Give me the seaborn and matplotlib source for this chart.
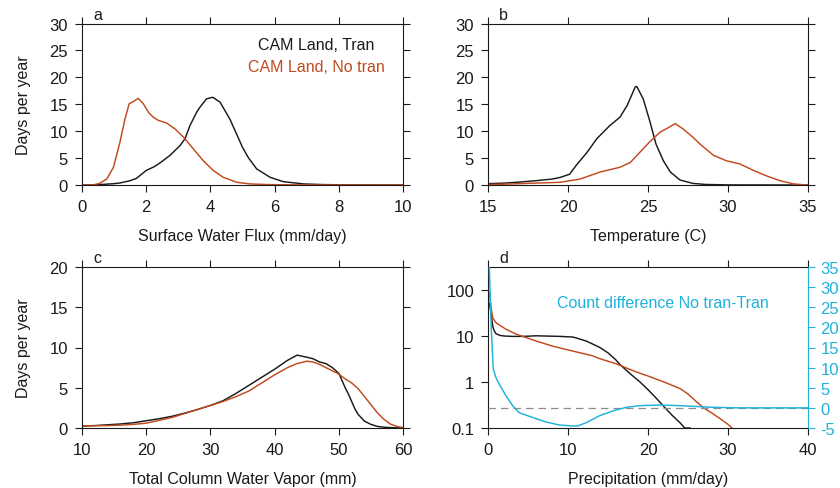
import numpy as np
import matplotlib
matplotlib.use("Agg")
import matplotlib.pyplot as plt
import seaborn as sns
from matplotlib.ticker import NullLocator, FixedLocator

# ── Colours ───────────────────────────────────────────────────────────────────
BLACK = "#1a1a1a"
ORANGE = "#c04a1f"
CYAN = "#1fb2da"

# ── Panel a: surface water flux (mm/day) ──────────────────────────────────────
a_x_tran = [0, 0.5, 1.0, 1.18, 1.5, 1.7, 2.0, 2.25, 2.43, 2.74, 3.05, 3.21, 3.36,
            3.57, 3.68, 3.88, 4.07, 4.3, 4.61, 4.82, 5.0, 5.18, 5.44, 5.86, 6.27,
            6.9, 7.5, 8.0, 9.0, 10.0]
a_tran = [0, 0.05, 0.25, 0.37, 0.8, 1.25, 2.7, 3.4, 4.1, 5.5, 7.3, 8.6, 11.0,
          13.5, 14.5, 16.0, 16.3, 15.4, 12.2, 9.4, 7.0, 5.1, 3.0, 1.43, 0.62,
          0.2, 0.08, 0.04, 0.01, 0]
a_x_notran = [0, 0.35, 0.55, 0.77, 0.98, 1.18, 1.34, 1.47, 1.6, 1.75, 1.91, 2.07,
              2.22, 2.38, 2.64, 2.9, 3.16, 3.47, 3.78, 4.09, 4.4, 4.82, 5.23,
              5.8, 6.5, 7.5, 10.0]
a_notran = [0, 0.02, 0.3, 1.1, 3.3, 7.9, 12.3, 15.1, 15.5, 16.1, 15.1, 13.5,
            12.6, 12.0, 11.5, 10.4, 8.9, 6.7, 4.5, 2.7, 1.43, 0.5, 0.2,
            0.08, 0.03, 0.01, 0]

# ── Panel b: temperature (C) ──────────────────────────────────────────────────
b_x_tran = [15, 16, 17, 18, 19, 19.5, 20.1, 20.5, 21.2, 21.8, 22.6, 23.25, 23.7,
            24.2, 24.3, 24.7, 25.1, 25.5, 25.96, 26.4, 27.0, 27.8, 28.6, 30, 35]
b_tran = [0.25, 0.35, 0.55, 0.8, 1.1, 1.4, 2.0, 3.6, 6.1, 8.6, 11.0, 12.6, 14.8,
          18.2, 18.3, 16.0, 12.0, 7.6, 4.5, 2.4, 0.93, 0.3, 0.1, 0.02, 0]
b_x_notran = [15, 16, 17, 18, 19, 19.5, 20.75, 22.0, 23.25, 23.9, 24.5, 25.1,
              25.75, 26.3, 26.7, 27.2, 27.8, 28.25, 29.1, 29.9, 30.75, 31.6,
              32.4, 33.25, 34.1, 34.9]
b_notran = [0.1, 0.15, 0.25, 0.35, 0.45, 0.5, 1.1, 2.4, 3.3, 4.2, 6.1, 8.0,
            9.8, 10.7, 11.4, 10.4, 8.9, 7.6, 5.5, 4.5, 3.9, 2.7,
            1.7, 0.8, 0.2, 0]

# ── Panel c: total column water vapor (mm) ────────────────────────────────────
c_x = [10, 12, 14, 16, 18, 20, 22, 24, 26, 28, 30, 32, 34, 36, 38, 40, 42, 43.5,
       45, 46, 47, 48, 49, 50, 51, 51.5, 52, 52.5, 53, 54, 55, 56, 57, 58, 59, 60]
c_tran = [0.25, 0.3, 0.4, 0.5, 0.65, 0.9, 1.15, 1.45, 1.85, 2.3, 2.8, 3.4, 4.3,
          5.3, 6.3, 7.3, 8.4, 9.05, 8.8, 8.6, 8.2, 8.0, 7.5, 6.8, 5.0, 4.2,
          3.3, 2.4, 1.7, 0.85, 0.45, 0.2, 0.1, 0.05, 0.02, 0]
c_notran = [0.25, 0.28, 0.3, 0.35, 0.45, 0.6, 0.95, 1.3, 1.8, 2.3, 2.8, 3.3, 3.9,
            4.6, 5.6, 6.6, 7.5, 8.0, 8.3, 8.2, 7.9, 7.5, 7.1, 6.7, 6.1, 5.85,
            5.6, 5.25, 4.9, 3.9, 2.9, 1.9, 1.1, 0.5, 0.2, 0.05]

# ── Panel d: precipitation (mm/day), log counts + count difference ────────────
d_x_tran = [0.17, 0.4, 0.6, 0.8, 1.0, 1.5, 2, 3, 4, 5, 6, 7, 8, 9, 10, 10.6, 11,
            12.25, 13, 14, 15, 16, 16.5, 17, 18, 19, 20, 21, 22, 23, 24, 24.6, 25.3]
d_tran = [52, 30, 16, 12.8, 11.2, 10.3, 10.0, 9.8, 9.8, 9.9, 10.1, 10.0, 9.9,
          9.8, 9.6, 9.5, 9.1, 7.8, 6.8, 5.6, 4.3, 3.0, 2.4, 2.0, 1.4, 1.0,
          0.68, 0.45, 0.29, 0.19, 0.13, 0.1, 0.1]
d_x_notran = [0.17, 0.4, 0.58, 1.0, 2.25, 3.5, 6, 8.1, 10.6, 13.1, 14, 16, 18,
              19, 20, 22, 24, 25, 26, 27, 28, 29, 30, 30.5]
d_notran = [87, 40, 25, 19.4, 14, 11, 7.8, 6.0, 4.7, 3.7, 3.2, 2.5, 1.8,
            1.55, 1.35, 1.0, 0.72, 0.55, 0.38, 0.27, 0.21, 0.16, 0.12, 0.1]
d_x_diff = [0.1, 0.15, 0.4, 0.66, 1.0, 1.4, 2.25, 3.1, 3.9, 5.6, 7.25, 8.9, 10.6,
            11.2, 12.25, 14, 15.7, 17.3, 19, 21.5, 24, 26.5, 28, 30.7, 33, 36, 40]
d_diff = [40, 36, 20, 9.7, 7.5, 5.9, 3.0, 0.5, -1.2, -2.4, -3.5, -4.25, -4.5,
          -4.5, -3.7, -1.9, -0.7, 0.15, 0.55, 0.72, 0.55, 0.3, 0.15, 0.02, 0, 0, 0]

# ── Style ─────────────────────────────────────────────────────────────────────
sns.set_style("ticks")
plt.rcParams["font.family"] = ["Liberation Sans", "DejaVu Sans"]
plt.rcParams["axes.linewidth"] = 0.8
FS = 11.5
TFS = 12

fig = plt.figure(figsize=(8.4, 4.89), dpi=100)
W, H = 840, 489


def add_ax(left, top, right, bottom):
    return fig.add_axes([left / W, 1 - bottom / H, (right - left) / W, (bottom - top) / H])


def style(ax, xlim, xticks, ylim, yticks, xlabel, ylabel=None, right=True):
    ax.set_xlim(*xlim)
    ax.set_ylim(*ylim)
    ax.set_xticks(xticks)
    ax.set_xticklabels([f"{t:g}" for t in xticks])
    if yticks is not None:
        ax.set_yticks(yticks)
        ax.set_yticklabels([f"{t:g}" for t in yticks])
    ax.tick_params(direction="out", length=5, width=0.8, pad=5, labelsize=TFS,
                   top=True, right=right, colors=BLACK)
    for s in ax.spines.values():
        s.set_visible(True)
        s.set_color(BLACK)
        s.set_linewidth(0.8)
    ax.set_xlabel(xlabel, fontsize=FS, labelpad=10, color=BLACK)
    if ylabel:
        ax.set_ylabel(ylabel, fontsize=FS, labelpad=13, color=BLACK)
    else:
        ax.set_ylabel("")


ax_a = add_ax(82, 24.5, 403, 186)
ax_b = add_ax(488, 24.5, 808, 186)
ax_c = add_ax(82, 268, 403, 429)
ax_d = add_ax(488, 268, 808, 429)

LW = 1.05

# a
sns.lineplot(x=a_x_tran, y=a_tran, ax=ax_a, color=BLACK, lw=LW, sort=False)
sns.lineplot(x=a_x_notran, y=a_notran, ax=ax_a, color=ORANGE, lw=LW, sort=False)
style(ax_a, (0, 10), [0, 2, 4, 6, 8, 10], (0, 30), [0, 5, 10, 15, 20, 25, 30],
      "Surface Water Flux (mm/day)", "Days per year")
ax_a.text(0.73, 0.87, "CAM Land, Tran", transform=ax_a.transAxes, ha="center",
          va="center", fontsize=FS, color=BLACK)
ax_a.text(0.73, 0.733, "CAM Land, No tran", transform=ax_a.transAxes, ha="center",
          va="center", fontsize=FS, color=ORANGE)

# b
sns.lineplot(x=b_x_tran, y=b_tran, ax=ax_b, color=BLACK, lw=LW, sort=False)
sns.lineplot(x=b_x_notran, y=b_notran, ax=ax_b, color=ORANGE, lw=LW, sort=False)
style(ax_b, (15, 35), [15, 20, 25, 30, 35], (0, 30), [0, 5, 10, 15, 20, 25, 30],
      "Temperature (C)")

# c
sns.lineplot(x=c_x, y=c_tran, ax=ax_c, color=BLACK, lw=LW, sort=False)
sns.lineplot(x=c_x, y=c_notran, ax=ax_c, color=ORANGE, lw=LW, sort=False)
style(ax_c, (10, 60), [10, 20, 30, 40, 50, 60], (0, 20), [0, 5, 10, 15, 20],
      "Total Column Water Vapor (mm)", "Days per year")

# d
sns.lineplot(x=d_x_tran, y=d_tran, ax=ax_d, color=BLACK, lw=LW, sort=False)
sns.lineplot(x=d_x_notran, y=d_notran, ax=ax_d, color=ORANGE, lw=LW, sort=False)
ax_d.set_yscale("log")
style(ax_d, (0, 40), [0, 10, 20, 30, 40], (0.1, 316), None,
      "Precipitation (mm/day)", right=False)
ax_d.yaxis.set_major_locator(FixedLocator([0.1, 1, 10, 100]))
ax_d.yaxis.set_minor_locator(NullLocator())
ax_d.set_yticklabels(["0.1", "1", "10", "100"])

ax_d2 = ax_d.twinx()
ax_d2.axhline(0, color="#8c8c8c", lw=0.9, ls=(0, (6, 4)), zorder=1)
sns.lineplot(x=d_x_diff, y=d_diff, ax=ax_d2, color=CYAN, lw=LW, sort=False, zorder=2)
ax_d2.set_ylim(-5, 35)
ax_d2.set_yticks([-5, 0, 5, 10, 15, 20, 25, 30, 35])
ax_d2.set_yticklabels([f"{t}" for t in [-5, 0, 5, 10, 15, 20, 25, 30, 35]])
ax_d2.set_ylabel("")
ax_d2.tick_params(axis="y", direction="out", length=5, width=0.8, pad=4,
                  labelsize=TFS, colors=CYAN)
for name, s in ax_d2.spines.items():
    s.set_visible(name == "right")
ax_d2.spines["right"].set_color(CYAN)
ax_d2.spines["right"].set_linewidth(0.8)
ax_d.spines["right"].set_visible(False)
ax_d.text(0.547, 0.78, "Count difference No tran-Tran", transform=ax_d.transAxes,
          ha="center", va="center", fontsize=FS, color=CYAN)

# panel letters
for ax, lab in zip([ax_a, ax_b, ax_c, ax_d], "abcd"):
    ax.text(0.035, 1.012, lab, transform=ax.transAxes, ha="left", va="bottom",
            fontsize=FS, color=BLACK)

fig.savefig("out.png", dpi=100)
